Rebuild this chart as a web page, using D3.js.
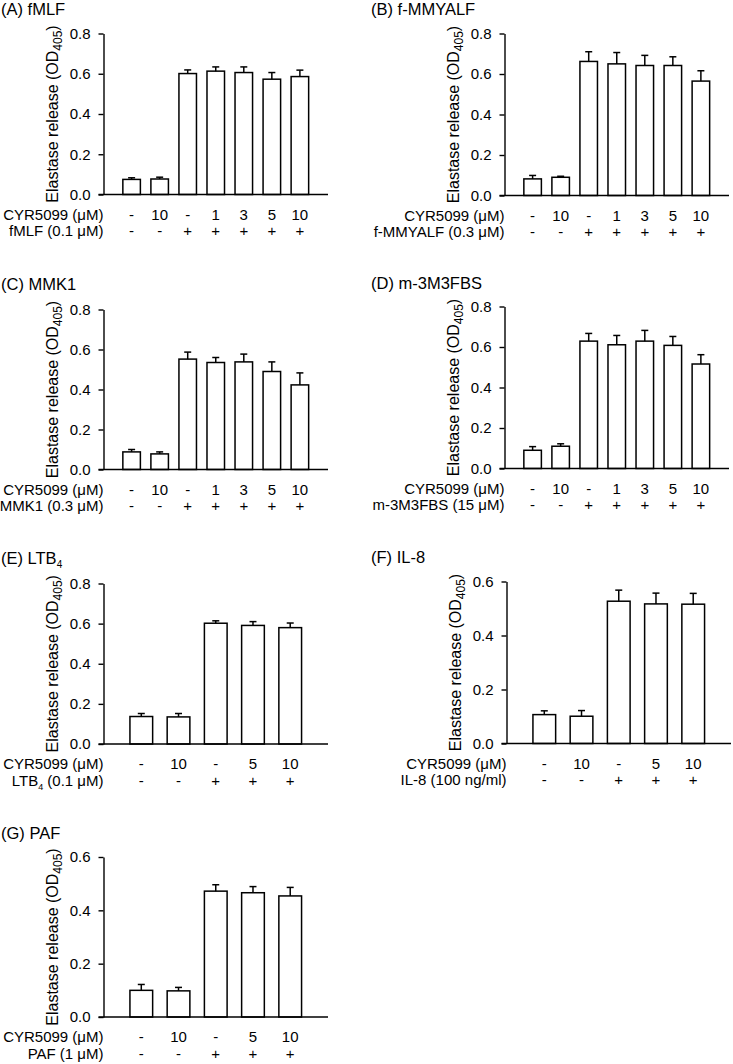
<!DOCTYPE html>
<html>
<head>
<meta charset="utf-8">
<script src="https://cdn.jsdelivr.net/npm/d3@7"></script>
<style>
  html, body { margin: 0; padding: 0; background: #fff; }
  svg { display: block; font-family: "Liberation Sans", Arial, sans-serif; }
</style>
</head>
<body>
<svg id="chart" width="733" height="1064"></svg>
<script>
// ---------- data ----------
const cyr7 = ["-", "10", "-", "1", "3", "5", "10"];
const stim7 = ["-", "-", "+", "+", "+", "+", "+"];
const cyr5 = ["-", "10", "-", "5", "10"];
const stim5 = ["-", "-", "+", "+", "+"];
const ticks08 = [0, 0.2, 0.4, 0.6, 0.8];
const ticks06 = [0, 0.2, 0.4, 0.6];

const aMeans = [0.075, 0.077, 0.601, 0.613, 0.606, 0.573, 0.586];
const aSem   = [0.008, 0.009, 0.018, 0.021, 0.028, 0.033, 0.032];
const bMeans = [0.082, 0.090, 0.662, 0.650, 0.642, 0.642, 0.565];
const bSem   = [0.017, 0.005, 0.048, 0.056, 0.050, 0.043, 0.051];
const cMeans = [0.088, 0.078, 0.552, 0.535, 0.538, 0.490, 0.423];
const cSem   = [0.012, 0.010, 0.035, 0.025, 0.039, 0.048, 0.060];
const dMeans = [0.090, 0.110, 0.629, 0.611, 0.629, 0.608, 0.516];
const dSem   = [0.018, 0.012, 0.038, 0.046, 0.053, 0.044, 0.046];
const eMeans = [0.137, 0.135, 0.602, 0.591, 0.580];
const eSem   = [0.015, 0.017, 0.012, 0.019, 0.023];
const fMeans = [0.107, 0.101, 0.527, 0.517, 0.516];
const fSem   = [0.014, 0.021, 0.041, 0.040, 0.040];
const gMeans = [0.100, 0.098, 0.472, 0.466, 0.454];
const gSem   = [0.022, 0.013, 0.024, 0.023, 0.032];

// ---------- panels ----------
const panels = [
  { title: ["(A) fMLF"], stim: ["fMLF (0.1 \u03BCM)"], means: aMeans, sem: aSem, cyr: cyr7, st: stim7, ticks: ticks08, max: 0.8,
    x0: 103.5, top: 33.5, bottom: 194.5, tx: 1, ty: 15 },
  { title: ["(B) f-MMYALF"], stim: ["f-MMYALF (0.3 \u03BCM)"], means: bMeans, sem: bSem, cyr: cyr7, st: stim7, ticks: ticks08, max: 0.8,
    x0: 504.5, top: 33.5, bottom: 195.5, tx: 371, ty: 15 },
  { title: ["(C) MMK1"], stim: ["MMK1 (0.3 \u03BCM)"], means: cMeans, sem: cSem, cyr: cyr7, st: stim7, ticks: ticks08, max: 0.8,
    x0: 103.5, top: 309.5, bottom: 469.5, tx: 1, ty: 290 },
  { title: ["(D) m-3M3FBS"], stim: ["m-3M3FBS (15 \u03BCM)"], means: dMeans, sem: dSem, cyr: cyr7, st: stim7, ticks: ticks08, max: 0.8,
    x0: 504.5, top: 306.5, bottom: 468.5, tx: 371, ty: 289 },
  { title: ["(E) LTB", "4"], stim: ["LTB", "4", " (0.1 \u03BCM)"], means: eMeans, sem: eSem, cyr: cyr5, st: stim5, ticks: ticks08, max: 0.8,
    x0: 103.5, top: 583.5, bottom: 744, tx: 1, ty: 564 },
  { title: ["(F) IL-8"], stim: ["IL-8 (100 ng/ml)"], means: fMeans, sem: fSem, cyr: cyr5, st: stim5, ticks: ticks06, max: 0.6,
    x0: 506.5, top: 581.5, bottom: 743.5, tx: 371, ty: 563 },
  { title: ["(G) PAF"], stim: ["PAF (1 \u03BCM)"], means: gMeans, sem: gSem, cyr: cyr5, st: stim5, ticks: ticks06, max: 0.6,
    x0: 103.5, top: 857, bottom: 1017, tx: 1, ty: 839 }
];

const svg = d3.select("#chart");
const W = 224.5;

function addSubText(sel, parts, subSize) {
  let shifted = false;
  parts.forEach((p, i) => {
    if (i % 2 === 0) {
      const ts = sel.append("tspan").text(p);
      if (shifted) { ts.attr("dy", -4); shifted = false; }
    } else {
      sel.append("tspan").attr("font-size", subSize).attr("dy", 4).text(p);
      shifted = true;
    }
  });
}

panels.forEach(p => {
  const g = svg.append("g");
  const n = p.means.length;
  const cats = d3.range(n).map(String);
  const x = d3.scaleBand().domain(cats).range([p.x0, p.x0 + W])
    .paddingInner(n === 7 ? 0.375 : 0.39).paddingOuter(n === 7 ? 0.69 : 0.71);
  const y = d3.scaleLinear().domain([0, p.max]).range([p.bottom, p.top]);

  // title
  const t = g.append("text").attr("x", p.tx).attr("y", p.ty).attr("font-size", 16.5).attr("fill", "#000");
  addSubText(t, p.title, 10);

  // bars
  g.selectAll("rect.bar").data(p.means).enter().append("rect")
    .attr("class", "bar")
    .attr("x", (d, i) => x(String(i)))
    .attr("y", d => y(d))
    .attr("width", x.bandwidth())
    .attr("height", d => y(0) - y(d))
    .attr("fill", "#fff").attr("stroke", "#000").attr("stroke-width", 1.5);

  // error bars (upper only)
  const cap = 7;
  p.means.forEach((m, i) => {
    const cx = x(String(i)) + x.bandwidth() / 2;
    g.append("line").attr("x1", cx).attr("x2", cx).attr("y1", y(m)).attr("y2", y(m + p.sem[i]))
      .attr("stroke", "#000").attr("stroke-width", 1.5);
    g.append("line").attr("x1", cx - cap / 2).attr("x2", cx + cap / 2)
      .attr("y1", y(m + p.sem[i])).attr("y2", y(m + p.sem[i]))
      .attr("stroke", "#000").attr("stroke-width", 1.5);
  });

  // y axis
  const ya = g.append("g").attr("transform", `translate(${p.x0},0)`)
    .call(d3.axisLeft(y).tickValues(p.ticks).tickFormat(d3.format(".1f")).tickSize(5).tickSizeOuter(0).tickPadding(8));
  ya.select(".domain").attr("stroke-width", 1.4);
  ya.selectAll(".tick line").attr("stroke-width", 1.4);
  ya.selectAll(".tick text").attr("font-size", 15).attr("fill", "#000").attr("font-family", "Liberation Sans, Arial, sans-serif");

  // x axis line
  g.append("line").attr("x1", x.range()[0] - 5).attr("x2", x.range()[1])
    .attr("y1", y(0)).attr("y2", y(0)).attr("stroke", "#000").attr("stroke-width", 1.4);

  // y label
  const yl = g.append("text")
    .attr("transform", `translate(${p.x0 - 46},${(p.top + p.bottom) / 2}) rotate(-90)`)
    .attr("text-anchor", "middle").attr("font-size", 16).attr("fill", "#000");
  yl.append("tspan").text("Elastase release (OD");
  yl.append("tspan").attr("font-size", 12).attr("dy", 4).text("405");
  yl.append("tspan").attr("dy", -4).text(")");

  // category rows
  const r1 = y(0) + 25, r2 = y(0) + 41.5;
  g.append("text").attr("x", p.x0).attr("y", r1).attr("text-anchor", "end").attr("font-size", 15)
    .text("CYR5099 (\u03BCM)");
  const s = g.append("text").attr("x", p.x0).attr("y", r2).attr("text-anchor", "end").attr("font-size", 15);
  addSubText(s, p.stim, 9);

  g.selectAll("text.c1").data(p.cyr).enter().append("text")
    .attr("class", "c1")
    .attr("x", (d, i) => x(String(i)) + x.bandwidth() / 2).attr("y", r1)
    .attr("text-anchor", "middle").attr("font-size", 15).text(d => d);
  g.selectAll("text.c2").data(p.st).enter().append("text")
    .attr("class", "c2")
    .attr("x", (d, i) => x(String(i)) + x.bandwidth() / 2).attr("y", r2)
    .attr("text-anchor", "middle").attr("font-size", 15).text(d => d);
});
</script>
</body>
</html>
